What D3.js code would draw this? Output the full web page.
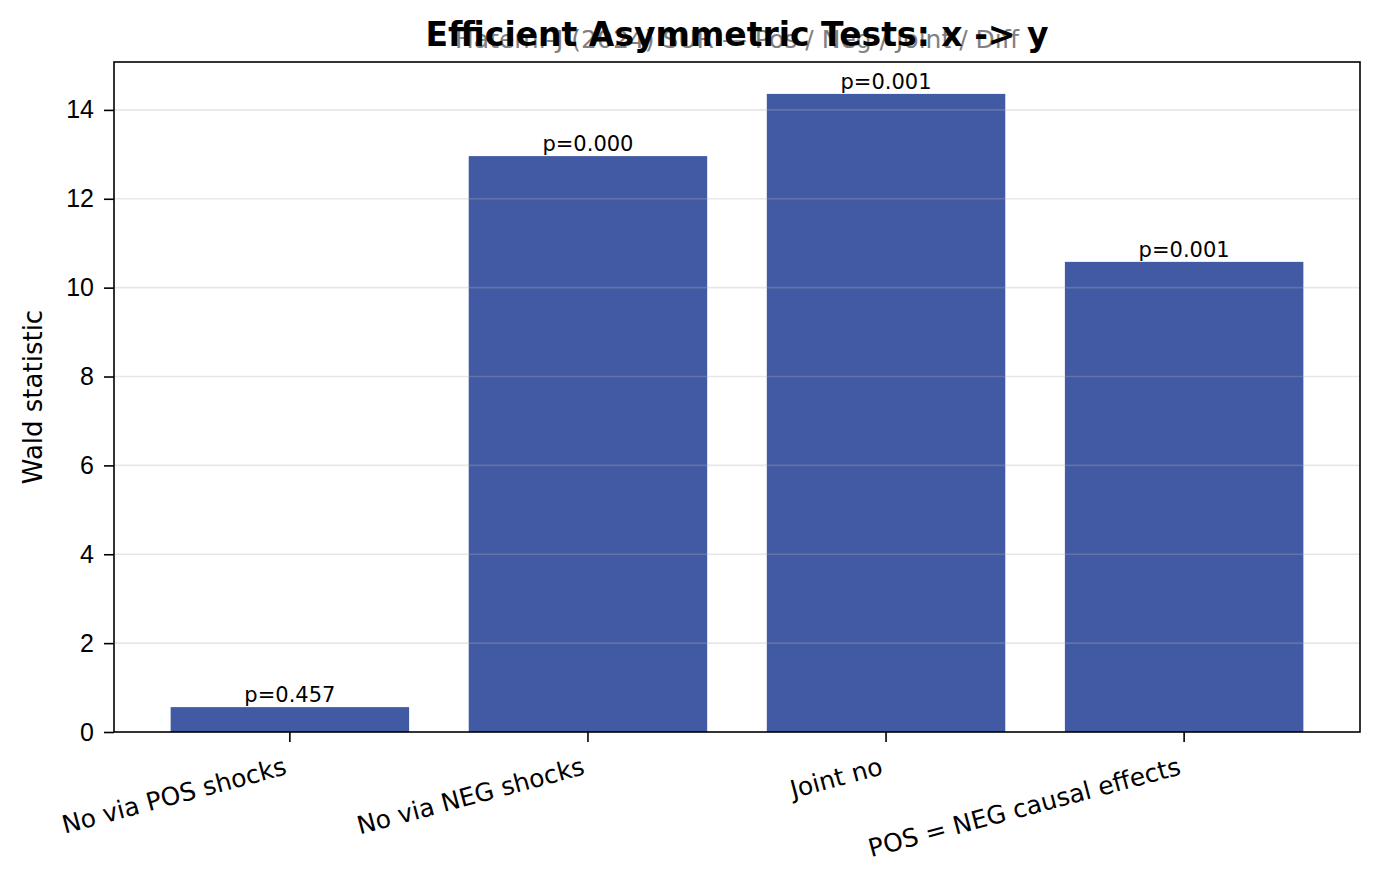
<!DOCTYPE html>
<html>
<head>
<meta charset="utf-8">
<script src="https://cdn.jsdelivr.net/npm/d3@7"></script>
<style>
  body { margin: 0; background: #fff; }
  svg { display: block; font-family: "DejaVu Sans", sans-serif; }
</style>
</head>
<body>
<div id="chart"></div>
<script>
const tests = ["No via POS shocks", "No via NEG shocks", "Joint no", "POS = NEG causal effects"];
const waldStats = [0.56, 12.96, 14.36, 10.58];
const pValues = ["p=0.457", "p=0.000", "p=0.001", "p=0.001"];
const yTicks = [0, 2, 4, 6, 8, 10, 12, 14];

const svgWidth = 1379;
const svgHeight = 879;

const margin = {
	top: 62,
	right: 19,
	bottom: 147,
	left: 114,
};

const width = svgWidth - margin.left - margin.right;
const height = svgHeight - margin.top - margin.bottom;

const svg = d3
	.select("#chart")
	.append("svg")
	.attr("width", svgWidth)
	.attr("height", svgHeight);

svg.append("rect").attr("width", svgWidth).attr("height", svgHeight).attr("fill", "#fff");

const g = svg.append("g").attr("transform", `translate(${margin.left},${margin.top})`);

const x = d3
	.scaleBand()
	.domain(tests)
	.range([0, width])
	.paddingInner(0.2)
	.paddingOuter(0.19);

const y = d3
	.scaleLinear()
	.domain([0, d3.max(waldStats) * 1.05])
	.range([height, 0]);

// bars
g.selectAll("rect.bar")
	.data(tests)
	.join("rect")
	.attr("class", "bar")
	.attr("x", (d) => x(d))
	.attr("width", x.bandwidth())
	.attr("y", (d, i) => y(waldStats[i]))
	.attr("height", (d, i) => height - y(waldStats[i]))
	.attr("fill", "#4259a3");

// grid on top of bars (matplotlib alpha)
g.append("g")
	.selectAll("line")
	.data(yTicks.slice(1))
	.join("line")
	.attr("x1", 0)
	.attr("x2", width)
	.attr("y1", (d) => y(d))
	.attr("y2", (d) => y(d))
	.attr("stroke", "#b0b0b0")
	.attr("stroke-opacity", 0.3)
	.attr("stroke-width", 1.6);

// p-value labels
g.selectAll("text.pval")
	.data(tests)
	.join("text")
	.attr("class", "pval")
	.attr("x", (d) => x(d) + x.bandwidth() / 2)
	.attr("y", (d, i) => y(waldStats[i]) - 5)
	.attr("text-anchor", "middle")
	.style("font-size", "21px")
	.text((d, i) => pValues[i]);

// y axis
const yAxis = g
	.append("g")
	.call(d3.axisLeft(y).tickValues(yTicks).tickSize(10).tickPadding(10).tickFormat(d3.format("d")));
yAxis.select(".domain").remove();
yAxis.selectAll(".tick line").attr("stroke", "#000").attr("stroke-width", 1.6);
yAxis.selectAll(".tick text").style("font-size", "25px").attr("fill", "#000");

// x axis
const xAxis = g
	.append("g")
	.attr("transform", `translate(0,${height})`)
	.call(d3.axisBottom(x).tickSize(10).tickFormat(""));
xAxis.select(".domain").remove();
xAxis.selectAll(".tick line").attr("stroke", "#000").attr("stroke-width", 1.6);

g.selectAll("text.xlab")
	.data(tests)
	.join("text")
	.attr("class", "xlab")
	.attr("text-anchor", "end")
	.attr("transform", (d) => `translate(${x(d) + x.bandwidth() / 2 - 2},${height + 42}) rotate(-15)`)
	.style("font-size", "25px")
	.text((d) => d);

// frame
g.append("rect")
	.attr("width", width)
	.attr("height", height)
	.attr("fill", "none")
	.attr("stroke", "#000")
	.attr("stroke-width", 1.6);

// y label
svg.append("text")
	.attr("transform", `translate(42,${margin.top + height / 2}) rotate(-90)`)
	.attr("text-anchor", "middle")
	.style("font-size", "26px")
	.text("Wald statistic");

// subtitle, then title over it (the reference draws them overlapping)
svg.append("text")
	.attr("x", margin.left + width / 2)
	.attr("y", 48)
	.attr("text-anchor", "middle")
	.attr("fill", "#808080")
	.style("font-size", "25px")
	.text("Hatemi-J (2024) SUR — Pos / Neg / Joint / Diff");

svg.append("text")
	.attr("x", margin.left + width / 2)
	.attr("y", 46)
	.attr("text-anchor", "middle")
	.style("font-size", "33px")
	.style("font-weight", "bold")
	.text("Efficient Asymmetric Tests: x -> y");
</script>
</body>
</html>
